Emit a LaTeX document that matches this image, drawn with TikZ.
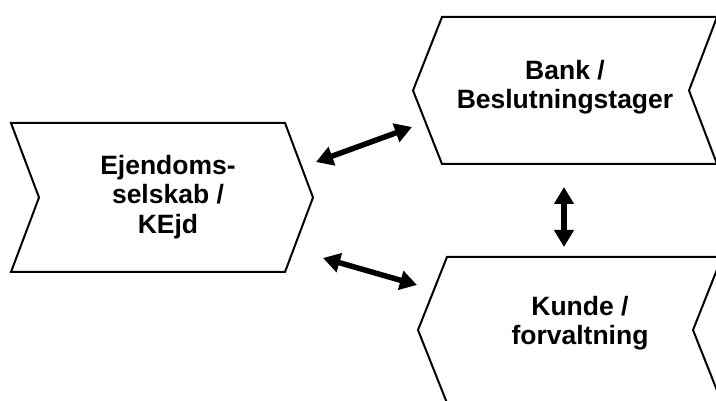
\documentclass[tikz,border=0pt]{standalone}
\usepackage{fontspec}
\setmainfont{Liberation Sans}
\usetikzlibrary{arrows.meta}
\begin{document}
\begin{tikzpicture}[x=1pt,y=-1pt,
  chev/.style={draw=black,line width=2pt,line join=miter,fill=white},
  lbl/.style={font=\bfseries\fontsize{26.5}{29.5}\selectfont,align=center,inner sep=0pt},
  dbl/.style={line width=5.5pt,{Triangle[length=17pt,width=19pt]}-{Triangle[length=17pt,width=19pt]}}]
\useasboundingbox (0,0) rectangle (716,401);
\clip (0,0) rectangle (716,401);
% left chevron (points right)
\draw[chev] (11,123) -- (285,123) -- (313,197.5) -- (285,272) -- (11,272) -- (39,197.5) -- cycle;
% top right chevron (points left)
\draw[chev] (442,17) -- (717,17) -- (689,90.5) -- (717,164) -- (442,164) -- (413,90.5) -- cycle;
% bottom right chevron (points left)
\draw[chev] (447,257) -- (722,257) -- (693,330) -- (722,403) -- (447,403) -- (418,330) -- cycle;
\node[lbl] (ejd) at (168,197) {Ejendoms-\\selskab /\\KEjd};
\node[lbl] (bank) at (565,87) {Bank /\\Beslutningstager};
\node[lbl] (kunde) at (580,323) {Kunde /\\forvaltning};
\coordinate (a1) at (316,162);
\coordinate (b1) at (412,127);
\coordinate (a2) at (323,258);
\coordinate (b2) at (417,285);
\coordinate (a3) at (564,187);
\coordinate (b3) at (564,247);
\draw[dbl] (a1) -- (b1);
\draw[dbl] (a2) -- (b2);
\draw[dbl] (a3) -- (b3);
\end{tikzpicture}
\end{document}
